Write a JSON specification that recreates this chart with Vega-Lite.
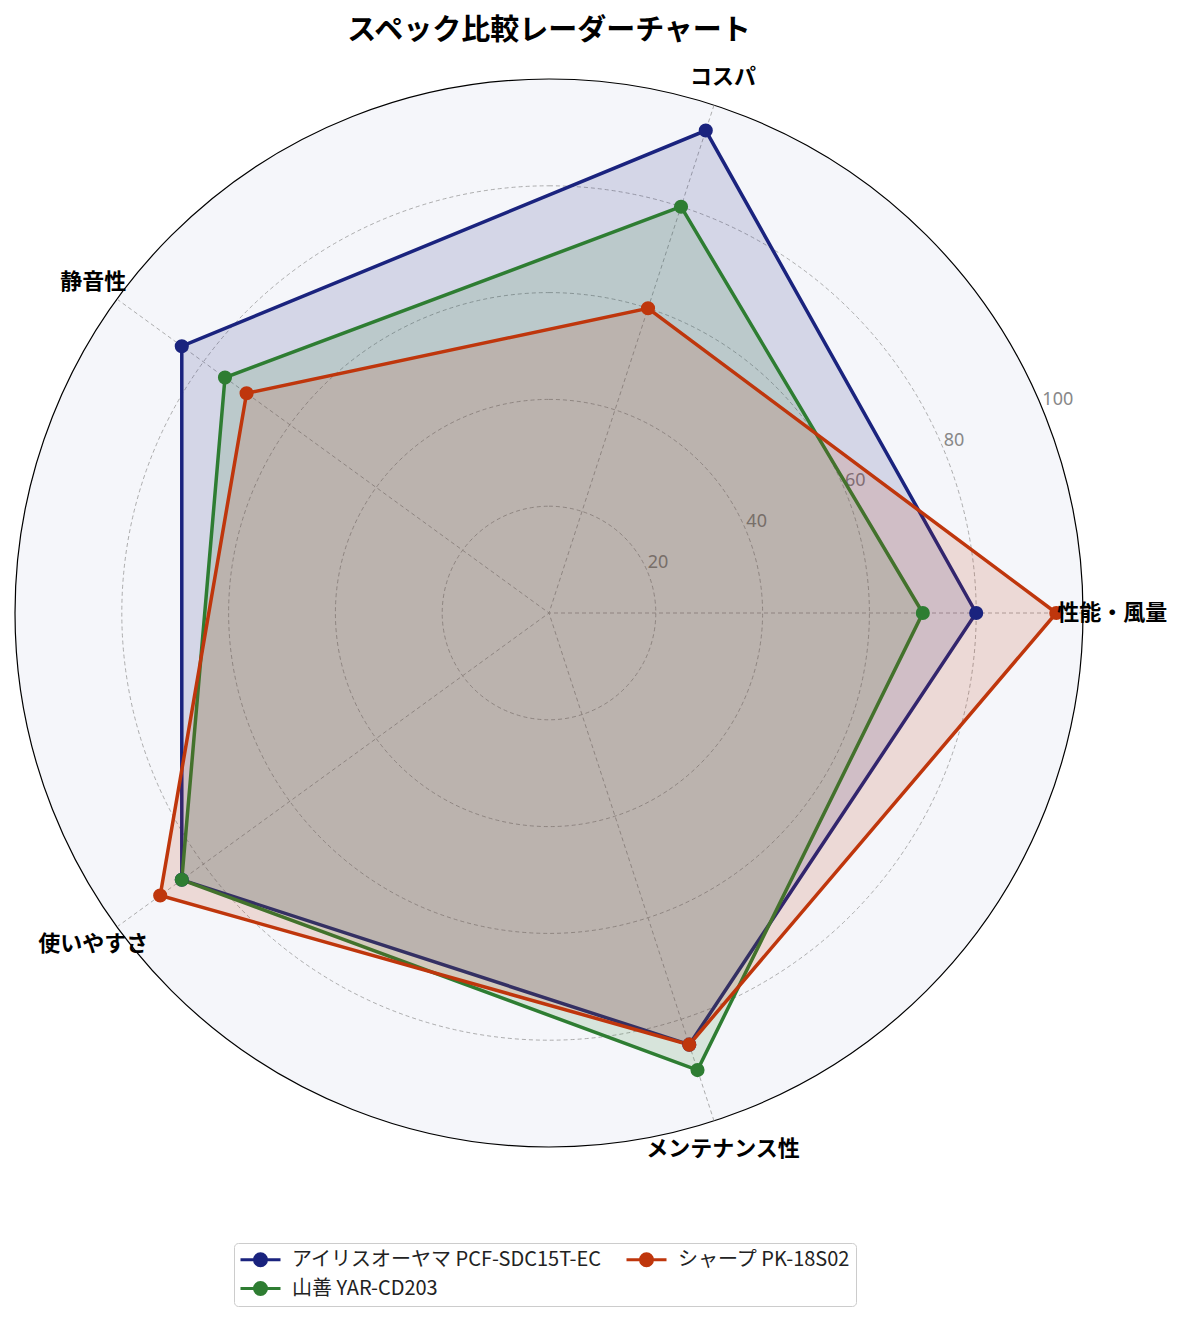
{
  "$schema": "https://vega.github.io/schema/vega-lite/v6.json",
  "title": {
    "text": "スペック比較レーダーチャート",
    "font": "Noto Sans CJK JP",
    "fontSize": 29,
    "fontWeight": "bold",
    "color": "black",
    "anchor": "middle",
    "offset": 20
  },
  "width": 1068,
  "height": 1068,
  "autosize": {"type": "none"},
  "padding": {"left": 15, "top": 79, "right": 102, "bottom": 173},
  "config": {"view": {"stroke": null}},
  "datasets": {
    "scores": [
      {"model": "アイリスオーヤマ PCF-SDC15T-EC", "axis": "性能・風量", "score": 80},
      {"model": "アイリスオーヤマ PCF-SDC15T-EC", "axis": "コスパ", "score": 95},
      {"model": "アイリスオーヤマ PCF-SDC15T-EC", "axis": "静音性", "score": 85},
      {"model": "アイリスオーヤマ PCF-SDC15T-EC", "axis": "使いやすさ", "score": 85},
      {"model": "アイリスオーヤマ PCF-SDC15T-EC", "axis": "メンテナンス性", "score": 85},
      {"model": "山善 YAR-CD203", "axis": "性能・風量", "score": 70},
      {"model": "山善 YAR-CD203", "axis": "コスパ", "score": 80},
      {"model": "山善 YAR-CD203", "axis": "静音性", "score": 75},
      {"model": "山善 YAR-CD203", "axis": "使いやすさ", "score": 85},
      {"model": "山善 YAR-CD203", "axis": "メンテナンス性", "score": 90},
      {"model": "シャープ PK-18S02", "axis": "性能・風量", "score": 95},
      {"model": "シャープ PK-18S02", "axis": "コスパ", "score": 60},
      {"model": "シャープ PK-18S02", "axis": "静音性", "score": 70},
      {"model": "シャープ PK-18S02", "axis": "使いやすさ", "score": 90},
      {"model": "シャープ PK-18S02", "axis": "メンテナンス性", "score": 85}
    ],
    "axes": [
      {"axis": "性能・風量"},
      {"axis": "コスパ"},
      {"axis": "静音性"},
      {"axis": "使いやすさ"},
      {"axis": "メンテナンス性"}
    ],
    "levels": [{"r": 20}, {"r": 40}, {"r": 60}, {"r": 80}, {"r": 100}]
  },
  "layer": [
    {
      "data": {"name": "levels"},
      "transform": [{"filter": "datum.r == 100"}],
      "mark": {"type": "arc", "theta": 0, "theta2": 6.2832, "fill": "#f5f6fa", "stroke": "black", "strokeWidth": 1.2},
      "encoding": {
        "radius": {"field": "r", "type": "quantitative", "stack": null, "scale": {"type": "linear", "domain": [0, 100], "range": [0, 534], "zero": true}}
      }
    },
    {
      "data": {"name": "levels"},
      "transform": [{"filter": "datum.r < 100"}],
      "mark": {"type": "arc", "theta": 0, "theta2": 6.2832, "filled": false, "stroke": "#999999", "strokeWidth": 0.8, "strokeDash": [4, 3]},
      "encoding": {
        "radius": {"field": "r", "type": "quantitative", "stack": null, "scale": {"type": "linear", "domain": [0, 100], "range": [0, 534], "zero": true}}
      }
    },
    {
      "data": {"name": "axes"},
      "transform": [
        {"calculate": "indexof(['性能・風量','コスパ','静音性','使いやすさ','メンテナンス性'], datum.axis) * 2 * PI / 5", "as": "angle"},
        {"calculate": "100 * cos(datum.angle)", "as": "x"},
        {"calculate": "100 * sin(datum.angle)", "as": "y"}
      ],
      "mark": {"type": "rule", "stroke": "#999999", "strokeWidth": 0.8, "strokeDash": [4, 3]},
      "encoding": {
        "x": {"field": "x", "type": "quantitative", "axis": null, "scale": {"domain": [-100, 100], "nice": false, "zero": false}},
        "y": {"field": "y", "type": "quantitative", "axis": null, "scale": {"domain": [-100, 100], "nice": false, "zero": false}},
        "x2": {"datum": 0},
        "y2": {"datum": 0}
      }
    },
    {
      "data": {"name": "levels"},
      "transform": [
        {"calculate": "datum.r * cos(PI / 8)", "as": "x"},
        {"calculate": "datum.r * sin(PI / 8)", "as": "y"}
      ],
      "mark": {"type": "text", "align": "left", "baseline": "bottom", "font": "Noto Sans", "fontSize": 18, "color": "#888888"},
      "encoding": {
        "x": {"field": "x", "type": "quantitative"},
        "y": {"field": "y", "type": "quantitative"},
        "text": {"field": "r", "type": "quantitative"}
      }
    },
    {
      "data": {"name": "scores"},
      "transform": [
        {"calculate": "indexof(['性能・風量','コスパ','静音性','使いやすさ','メンテナンス性'], datum.axis)", "as": "idx"},
        {"calculate": "datum.idx * 2 * PI / 5", "as": "angle"},
        {"calculate": "datum.score * cos(datum.angle)", "as": "x"},
        {"calculate": "datum.score * sin(datum.angle)", "as": "y"}
      ],
      "mark": {"type": "line", "interpolate": "linear-closed", "strokeWidth": 3.5, "fillOpacity": 0.15},
      "encoding": {
        "x": {"field": "x", "type": "quantitative"},
        "y": {"field": "y", "type": "quantitative"},
        "order": {"field": "idx", "type": "quantitative"},
        "color": {
          "field": "model",
          "type": "nominal",
          "scale": {
            "domain": ["アイリスオーヤマ PCF-SDC15T-EC", "山善 YAR-CD203", "シャープ PK-18S02"],
            "range": ["#1a237e", "#2e7d32", "#bf360c"]
          }
        },
        "fill": {
          "field": "model",
          "type": "nominal",
          "legend": null,
          "scale": {
            "domain": ["アイリスオーヤマ PCF-SDC15T-EC", "山善 YAR-CD203", "シャープ PK-18S02"],
            "range": ["#1a237e", "#2e7d32", "#bf360c"]
          }
        }
      }
    },
    {
      "data": {"name": "scores"},
      "transform": [
        {"calculate": "indexof(['性能・風量','コスパ','静音性','使いやすさ','メンテナンス性'], datum.axis) * 2 * PI / 5", "as": "angle"},
        {"calculate": "datum.score * cos(datum.angle)", "as": "x"},
        {"calculate": "datum.score * sin(datum.angle)", "as": "y"}
      ],
      "mark": {"type": "point", "filled": true, "size": 200, "opacity": 1},
      "encoding": {
        "x": {"field": "x", "type": "quantitative"},
        "y": {"field": "y", "type": "quantitative"},
        "color": {
          "field": "model",
          "type": "nominal",
          "scale": {
            "domain": ["アイリスオーヤマ PCF-SDC15T-EC", "山善 YAR-CD203", "シャープ PK-18S02"],
            "range": ["#1a237e", "#2e7d32", "#bf360c"]
          },
          "legend": {
            "title": null,
            "orient": "none",
            "legendX": 219,
            "legendY": 1164,
            "columns": 2,
            "symbolType": "M-2,0H2M0.6,0A0.6,0.6,0,1,1,-0.6,0A0.6,0.6,0,1,1,0.6,0Z",
            "symbolSize": 400,
            "symbolStrokeWidth": 3,
            "symbolOffset": 10,
            "labelOffset": 20,
            "labelFont": "Noto Sans CJK JP",
            "labelFontSize": 20,
            "labelColor": "#222222",
            "labelLimit": 0,
            "strokeColor": "#cccccc",
            "fillColor": "white",
            "padding": 5,
            "cornerRadius": 4,
            "rowPadding": 4,
            "columnPadding": 18,
            "encode": {
              "symbols": {
                "update": {
                  "fill": {"scale": "color", "field": "value"},
                  "stroke": {"scale": "color", "field": "value"},
                  "opacity": {"value": 1}
                }
              }
            }
          }
        }
      }
    },
    {
      "data": {"name": "axes"},
      "transform": [
        {"calculate": "indexof(['性能・風量','コスパ','静音性','使いやすさ','メンテナンス性'], datum.axis) * 2 * PI / 5", "as": "angle"},
        {"calculate": "105.5 * cos(datum.angle)", "as": "x"},
        {"calculate": "105.5 * sin(datum.angle)", "as": "y"}
      ],
      "mark": {"type": "text", "align": "center", "baseline": "middle", "font": "Noto Sans CJK JP", "fontSize": 22, "fontWeight": "bold", "color": "black"},
      "encoding": {
        "x": {"field": "x", "type": "quantitative"},
        "y": {"field": "y", "type": "quantitative"},
        "text": {"field": "axis", "type": "nominal"}
      }
    }
  ]
}
